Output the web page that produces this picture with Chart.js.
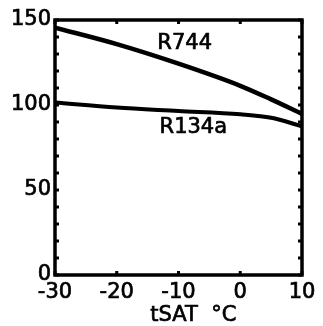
<!DOCTYPE html>
<html>
<head>
<meta charset="utf-8">
<script src="https://cdn.jsdelivr.net/npm/chart.js@4"></script>
<style>
  html, body { margin: 0; padding: 0; background: #fff; }
  #wrap { width: 323px; height: 326px; }
</style>
</head>
<body>
<div id="wrap"><canvas id="lineChart" width="323" height="326"></canvas></div>
<script>
// data
var tsat = [-30, -20, -10, 0, 5, 10];
var r744 = [145.5, 135.8, 124.3, 111.3, 103.3, 94.8];
var r134a = [101.5, 98.5, 96.5, 94.5, 92.5, 87.5];
var seriesNames = ['R744', 'R134a'];
var labelPos = [[-9, 136], [-7.6, 86.5]];
var xTicks = [-30, -20, -10, 0, 10];
var yTicks = [0, 50, 100, 150];
var yMinor = [10, 20, 30, 40, 60, 70, 80, 90, 110, 120, 130, 140];
var xTitle = 'tSAT  \u00B0C';
var xTitlePos = -7.6;

function pts(xs, ys) {
    return xs.map(function (x, i) { return { x: x, y: ys[i] }; });
}

var FONT = '"DejaVu Sans", sans-serif';

// frame, inward ticks, curve names and axis title
var framePlugin = {
    id: 'frame',
    afterDatasetsDraw: function (chart) {
        var ctx = chart.ctx;
        var a = chart.chartArea;
        var xs = chart.scales.x, ys = chart.scales.y;
        ctx.save();
        ctx.strokeStyle = '#000';
        ctx.lineWidth = 3.5;
        ctx.strokeRect(a.left, a.top, a.right - a.left, a.bottom - a.top);
        ctx.lineWidth = 3;
        xTicks.forEach(function (v) {
            var px = xs.getPixelForValue(v);
            ctx.beginPath();
            ctx.moveTo(px, a.bottom); ctx.lineTo(px, a.bottom - 4);
            ctx.moveTo(px, a.top); ctx.lineTo(px, a.top + 4);
            ctx.stroke();
        });
        yTicks.concat(yMinor).forEach(function (v) {
            var py = ys.getPixelForValue(v);
            ctx.beginPath();
            ctx.moveTo(a.left, py); ctx.lineTo(a.left + 4, py);
            ctx.moveTo(a.right, py); ctx.lineTo(a.right - 4, py);
            ctx.stroke();
        });
        ctx.fillStyle = '#000';
        ctx.font = '21px ' + FONT;
        ctx.textAlign = 'center';
        ctx.textBaseline = 'middle';
        ctx.lineWidth = 0.7;
        seriesNames.forEach(function (n, i) {
            var px = xs.getPixelForValue(labelPos[i][0]);
            var py = ys.getPixelForValue(labelPos[i][1]);
            ctx.fillText(n, px, py);
            ctx.strokeText(n, px, py);
        });
        ctx.fillText(xTitle, xs.getPixelForValue(xTitlePos), a.bottom + 41);
        ctx.strokeText(xTitle, xs.getPixelForValue(xTitlePos), a.bottom + 41);
        ctx.restore();
    }
};

var ctx = document.getElementById('lineChart').getContext('2d');
var myChart = new Chart(ctx, {
    type: 'line',
    data: {
        datasets: [{
            label: seriesNames[0],
            data: pts(tsat, r744),
            borderColor: '#000',
            borderWidth: 4.5,
            pointRadius: 0,
            cubicInterpolationMode: 'monotone',
            fill: false
        }, {
            label: seriesNames[1],
            data: pts(tsat, r134a),
            borderColor: '#000',
            borderWidth: 4,
            pointRadius: 0,
            cubicInterpolationMode: 'monotone',
            fill: false
        }]
    },
    options: {
        responsive: false,
        animation: false,
        layout: {
            padding: { left: 0, right: 21, top: 20, bottom: 0 }
        },
        plugins: {
            legend: { display: false },
            tooltip: { enabled: false }
        },
        scales: {
            x: {
                type: 'linear',
                min: -30,
                max: 10,
                grid: { display: false, drawTicks: false },
                border: { display: false },
                ticks: {
                    stepSize: 10,
                    color: '#000',
                    textStrokeColor: '#000',
                    textStrokeWidth: 0.7,
                    padding: 5,
                    maxRotation: 0,
                    font: { size: 21, family: FONT }
                },
                afterFit: function (s) { s.height = 51; }
            },
            y: {
                min: 0,
                max: 150,
                grid: { display: false, drawTicks: false },
                border: { display: false },
                ticks: {
                    stepSize: 50,
                    color: '#000',
                    textStrokeColor: '#000',
                    textStrokeWidth: 0.7,
                    padding: 4,
                    font: { size: 21, family: FONT }
                },
                afterFit: function (s) { s.width = 55; }
            }
        }
    },
    plugins: [framePlugin]
});
</script>
</body>
</html>
